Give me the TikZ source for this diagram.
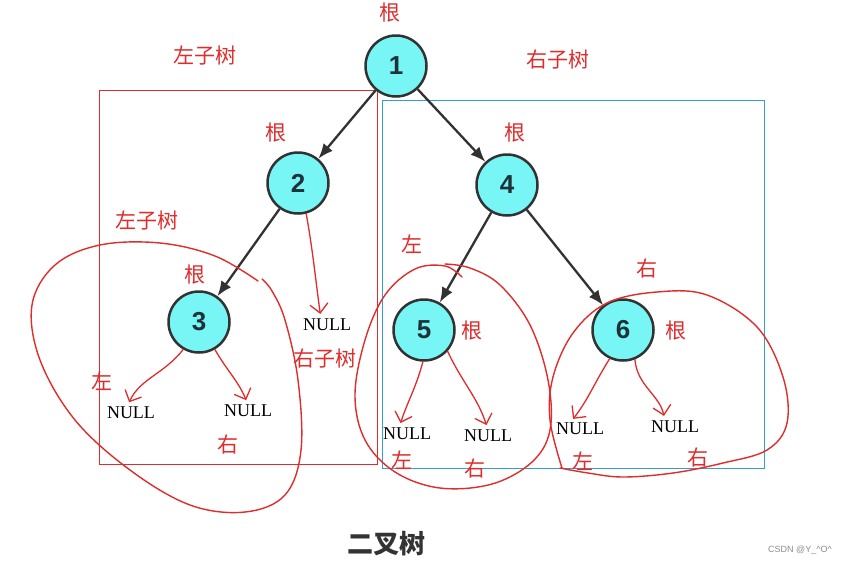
\documentclass[tikz,border=0pt]{standalone}
\usepackage{fontspec}
\setmainfont{Liberation Serif}
\newfontfamily\cjk{Noto Sans CJK SC}
\newfontfamily\numfont{Liberation Sans}
\usetikzlibrary{arrows.meta}
\definecolor{redc}{RGB}{222,45,45}
\definecolor{cyanfill}{RGB}{120,246,246}
\definecolor{numcol}{RGB}{30,50,55}
\definecolor{bluebox}{RGB}{50,160,200}
\definecolor{edgecol}{RGB}{50,50,50}
\tikzset{
  tnode/.style={circle, draw=edgecol, line width=2.5pt, fill=cyanfill, minimum size=61pt, inner sep=0pt,
    font=\numfont\bfseries\fontsize{26}{26}\selectfont, text=numcol},
  lab/.style={text=redc, font=\cjk\fontsize{21}{21}\selectfont, inner sep=0pt},
  nul/.style={font=\fontsize{18}{18}\selectfont, inner sep=0pt},
  tedge/.style={draw=edgecol, line width=2.3pt, -{Latex[length=15pt,width=12pt]}},
  hand/.style={draw=redc, line width=1.3pt, line cap=round, line join=round, -{Straight Barb[length=9pt,width=18pt]}, shorten >=5pt},
  loop/.style={draw=redc, line width=1.4pt, line cap=round},
}
\begin{document}
\begin{tikzpicture}[x=1pt,y=-1pt]
\useasboundingbox[fill=white] (0,0) rectangle (850,565);
% boxes
\draw[redc, line width=0.9pt] (99,90) rectangle (377,464);
\draw[bluebox, line width=0.9pt] (382,100) rectangle (764,468);
% tree nodes
\node[tnode] (n1) at (396,66) {1};
\node[tnode] (n2) at (298,183) {2};
\node[tnode] (n4) at (507,185) {4};
\node[tnode] (n3) at (199,322) {3};
\node[tnode] (n5) at (424,330) {5};
\node[tnode] (n6) at (623,330) {6};
\draw[tedge] (n1) -- (n2);
\draw[tedge] (n1) -- (n4);
\draw[tedge] (n2) -- (n3);
\draw[tedge] (n4) -- (n5);
\draw[tedge] (n4) -- (n6);
% NULL nodes
\node[nul] (u2) at (327,325) {NULL};
\node[nul] (u3l) at (131,413) {NULL};
\node[nul] (u3r) at (248,411) {NULL};
\node[nul] (u5l) at (407,434) {NULL};
\node[nul] (u5r) at (488,436) {NULL};
\node[nul] (u6l) at (580,429) {NULL};
\node[nul] (u6r) at (675,427) {NULL};
% red hand arrows
\draw[hand] (n2.285) to[out=-80,in=98] ([xshift=-6pt]u2.north);
\draw[hand] (n3.240) to[out=-128,in=65] ([xshift=-4pt]u3l.north);
\draw[hand] (n3.300) to[out=-60,in=112] (u3r.north);
\draw[hand] (n5.268) to[out=-105,in=72] ([xshift=-8pt]u5l.north);
\draw[hand] (n5.318) to[out=-65,in=108] (u5r.north);
\draw[hand] (n6.245) to[out=-122,in=52] ([xshift=-10pt]u6l.north);
\draw[hand] (n6.292) to[out=-85,in=102] ([xshift=-10pt]u6r.north);
% red loops
\draw[loop] plot[smooth, tension=0.6] coordinates {(258,281) (215,256) (160,243) (100,245) (55,265) (32,305) (40,360) (75,420) (130,470) (190,505) (245,512) (285,495) (301,450) (298,380) (285,320) (272,291) (262,279)};
\draw[loop] plot[smooth, tension=0.6] coordinates {(462,277) (445,266) (415,269) (385,295) (365,340) (355,395) (365,440) (395,472) (440,488) (492,484) (532,462) (550,430) (548,380) (530,325) (500,285) (470,268) (445,264)};
\draw[loop] plot[smooth, tension=0.6] coordinates {(562,468) (550,420) (553,377) (573,333) (607,303) (657,292) (707,295) (757,327) (783,377) (787,423) (767,450) (723,463) (673,473) (623,477) (588,473) (560,468)};
% red labels
\node[lab] (l1) at (390,13) {根};
\node[lab] (l2) at (205,56) {左子树};
\node[lab] (l3) at (558,60) {右子树};
\node[lab] (l4) at (276,133) {根};
\node[lab] (l5) at (515,133) {根};
\node[lab] (l6) at (147,221) {左子树};
\node[lab] (l7) at (195,275) {根};
\node[lab] (l8) at (412,244) {左};
\node[lab] (l9) at (647,269) {右};
\node[lab] (l10) at (472,331) {根};
\node[lab] (l11) at (676,331) {根};
\node[lab] (l12) at (102,381) {左};
\node[lab] (l13) at (228,445) {右};
\node[lab] (l14) at (325,359) {右子树};
\node[lab] (l15) at (402,460) {左};
\node[lab] (l16) at (475,469) {右};
\node[lab] (l17) at (583,461) {左};
\node[lab] (l18) at (698,458) {右};
% title
\node[font=\cjk\bfseries\fontsize{26}{26}\selectfont, text=black!80, inner sep=0pt] (title) at (386,544) {二叉树};
\node[font=\numfont\fontsize{9}{9}\selectfont, text=black!45, inner sep=0pt] (csdn) at (800,550) {CSDN @Y\_\textasciicircum O\textasciicircum};
\end{tikzpicture}
\end{document}
